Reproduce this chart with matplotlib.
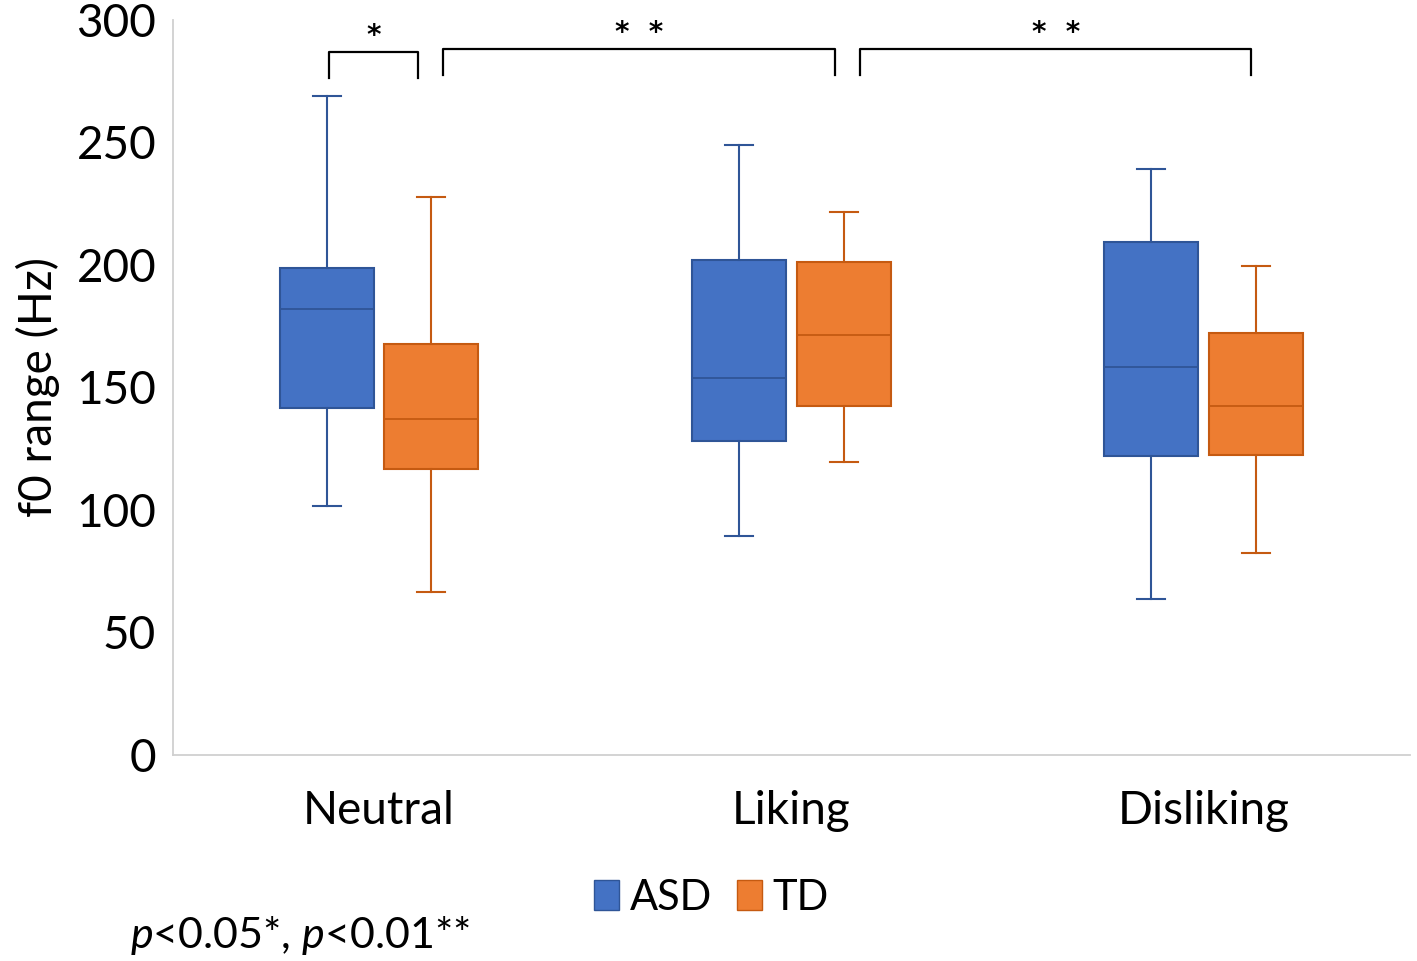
import numpy as np
import matplotlib.pyplot as plt

plt.rcParams['font.family'] = ['Lato', 'DejaVu Sans']
plt.rcParams['mathtext.fontset'] = 'custom'
plt.rcParams['mathtext.it'] = 'Lato:italic'
plt.rcParams['mathtext.rm'] = 'Lato'

# --- data ---
categories = ["Neutral", "Liking", "Disliking"]
groups = ["ASD", "TD"]

# whislo, q1, median, q3, whishi per category
asd_whislo = [101.6, 89.4, 63.7]
asd_q1 = [141.6, 128.2, 122.0]
asd_med = [182.0, 153.9, 158.4]
asd_q3 = [198.8, 202.0, 209.4]
asd_whishi = [269.0, 249.0, 239.2]

td_whislo = [66.5, 119.6, 82.4]
td_q1 = [116.7, 142.4, 122.4]
td_med = [137.0, 171.4, 142.4]
td_q3 = [167.8, 201.2, 172.2]
td_whishi = [227.8, 221.6, 199.6]

# significance brackets: (x left, x right, y top, label)
brackets = [(-0.121, 0.095, 287.0, "*"),
            (0.155, 1.106, 288.2, "*  *"),
            (1.167, 2.115, 288.2, "*  *")]

colors = {"ASD": ("#4472C4", "#2F5597"), "TD": ("#ED7D31", "#C55A11")}

fig = plt.figure(figsize=(14.17, 9.61), dpi=100)
ax = fig.add_axes([0.122, 0.2144, 0.873, 0.7648])

x = np.arange(len(categories))
offset = 0.127
width = 0.228

def make_stats(lo, q1, med, q3, hi):
    return [dict(whislo=a, q1=b, med=c, q3=d, whishi=e, fliers=[])
            for a, b, c, d, e in zip(lo, q1, med, q3, hi)]

series = {
    "ASD": make_stats(asd_whislo, asd_q1, asd_med, asd_q3, asd_whishi),
    "TD": make_stats(td_whislo, td_q1, td_med, td_q3, td_whishi),
}

for i, g in enumerate(groups):
    face, edge = colors[g]
    pos = x + (-offset if i == 0 else offset)
    ax.bxp(series[g], positions=pos, widths=width, capwidths=0.068,
           patch_artist=True, showfliers=False,
           boxprops=dict(facecolor=face, edgecolor=edge, linewidth=1.5),
           medianprops=dict(color=edge, linewidth=1.3),
           whiskerprops=dict(color=edge, linewidth=1.5),
           capprops=dict(color=edge, linewidth=1.5))

# brackets
for x0, x1, yt, lab in brackets:
    ax.plot([x0, x0, x1, x1], [yt - 10.7, yt, yt, yt - 10.7], color="black", lw=1.6)
    ax.text((x0 + x1) / 2, yt + 6.5, lab, ha="center", va="center", fontsize=20,
            family="DejaVu Sans", fontweight="bold")

ax.set_xlim(-0.5, 2.5)
ax.set_ylim(0, 300)
ax.set_yticks(np.arange(0, 301, 50))
ax.set_xticks(x)
ax.set_xticklabels(categories)
ax.tick_params(axis="both", length=0, labelsize=33)
ax.tick_params(axis="x", pad=25)
ax.tick_params(axis="y", pad=12)
for s in ["top", "right"]:
    ax.spines[s].set_visible(False)
for s in ["left", "bottom"]:
    ax.spines[s].set_color("#D0D0D0")
    ax.spines[s].set_linewidth(1.3)
ax.set_ylabel("f0 range (Hz)", fontsize=33, labelpad=12)

# legend
handles = [plt.Rectangle((0, 0), 1, 1, facecolor=colors[g][0], edgecolor=colors[g][1]) for g in groups]
fig.legend(handles, groups, loc="center", bbox_to_anchor=(0.502, 0.066), ncol=2, frameon=False,
           fontsize=30, handlelength=0.6, handleheight=0.75, handletextpad=0.25, columnspacing=0.6)

fig.text(0.092, 0.027, r"$\mathit{p}$<0.05*, $\mathit{p}$<0.01**", fontsize=31, va="center")

plt.savefig("out.png", dpi=100)
